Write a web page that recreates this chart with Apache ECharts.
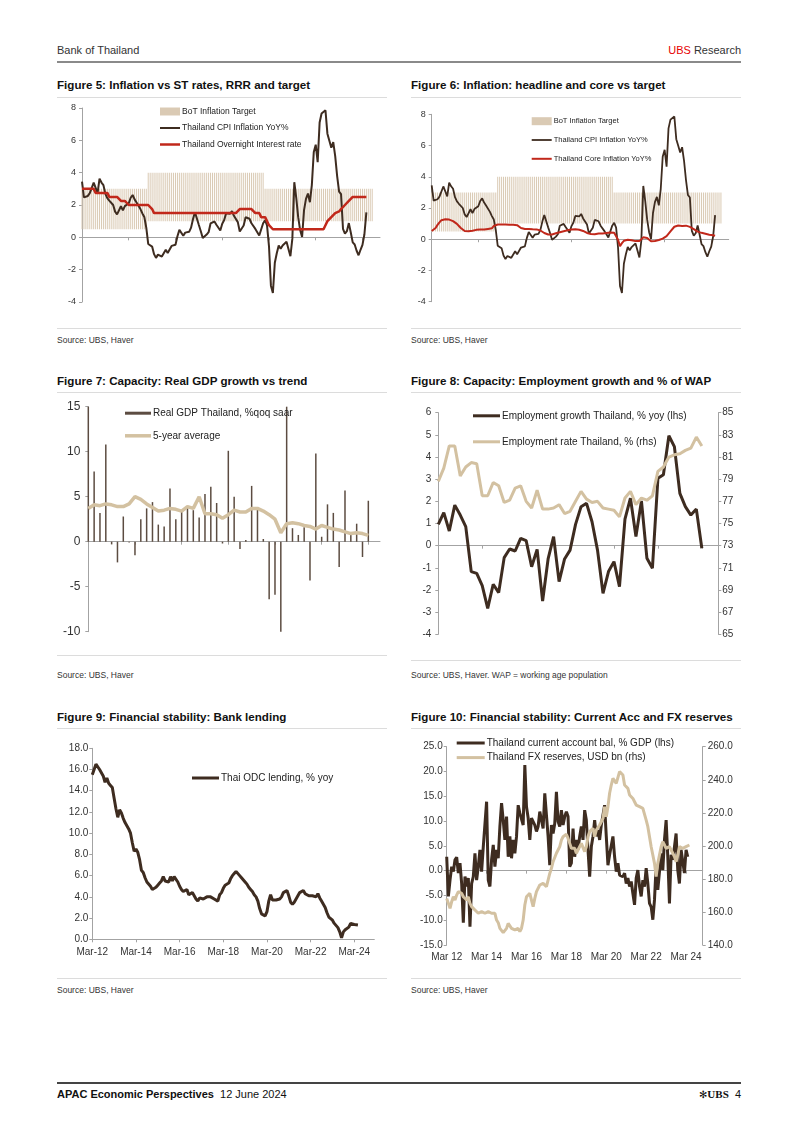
<!DOCTYPE html>
<html><head><meta charset="utf-8">
<script src="https://cdn.jsdelivr.net/npm/echarts@6/dist/echarts.min.js"></script>
<style>
body{margin:0;background:#fff;}
#page{position:relative;width:802px;height:1134px;background:#fff;font-family:"Liberation Sans",Arial,sans-serif;color:#222;overflow:hidden}
.t{position:absolute;white-space:nowrap}
.title{font-weight:bold;font-size:11.6px;line-height:14px;color:#111}
.src{font-size:8.5px;line-height:10px;color:#333}
.hr{position:absolute;height:1px;background:#dcdcdc}
.chart{position:absolute}
</style></head><body><div id="page">
<div class="t" style="left:57px;top:43.5px;font-size:11px;line-height:13px;color:#333">Bank of Thailand</div>
<div class="t" style="right:61px;top:43.5px;font-size:11px;line-height:13px;color:#333"><span style="color:#e60000">UBS</span> Research</div>
<div class="hr" style="left:57px;top:61px;width:684px;height:1.5px;background:#8a8a8a"></div>

<div class="t title" style="left:57px;top:78px">Figure 5: Inflation vs ST rates, RRR and target</div>
<div class="t title" style="left:411px;top:78px">Figure 6: Inflation: headline and core vs target</div>
<div class="hr" style="left:57px;top:96.5px;width:330px"></div>
<div class="hr" style="left:411px;top:96.5px;width:330px"></div>
<div class="hr" style="left:57px;top:328px;width:330px"></div>
<div class="hr" style="left:411px;top:328px;width:330px"></div>
<div class="t src" style="left:57px;top:335px">Source: UBS, Haver</div>
<div class="t src" style="left:411px;top:335px">Source: UBS, Haver</div>

<div class="t title" style="left:57px;top:374px">Figure 7: Capacity: Real GDP growth vs trend</div>
<div class="t title" style="left:411px;top:374px">Figure 8: Capacity: Employment growth and % of WAP</div>
<div class="hr" style="left:57px;top:391.5px;width:330px"></div>
<div class="hr" style="left:411px;top:391.5px;width:330px"></div>
<div class="hr" style="left:57px;top:655px;width:330px"></div>
<div class="hr" style="left:411px;top:660px;width:330px"></div>
<div class="t src" style="left:57px;top:670px">Source: UBS, Haver</div>
<div class="t src" style="left:411px;top:670px">Source: UBS, Haver. WAP = working age population</div>

<div class="t title" style="left:57px;top:710px">Figure 9: Financial stability: Bank lending</div>
<div class="t title" style="left:411px;top:710px">Figure 10: Financial stability: Current Acc and FX reserves</div>
<div class="hr" style="left:57px;top:728px;width:330px"></div>
<div class="hr" style="left:411px;top:728px;width:330px"></div>
<div class="hr" style="left:57px;top:978px;width:330px"></div>
<div class="hr" style="left:411px;top:978px;width:330px"></div>
<div class="t src" style="left:57px;top:984.5px">Source: UBS, Haver</div>
<div class="t src" style="left:411px;top:984.5px">Source: UBS, Haver</div>

<div class="hr" style="left:57px;top:1082px;width:684px;height:1.5px;background:#444"></div>
<div class="t" style="left:57px;top:1087.5px;font-size:11px;line-height:13px;color:#111"><b>APAC Economic Perspectives</b>&nbsp; 12 June 2024</div>
<div class="t" style="right:61px;top:1087.5px;font-size:11px;line-height:13px;color:#111"><span style="font-size:10px">✻</span><span style="font-family:'Liberation Serif',serif;font-weight:bold">UBS</span>&nbsp; 4</div>

<div id="c5" class="chart"></div>
<div id="c6" class="chart"></div>
<div id="c7" class="chart"></div>
<div id="c8" class="chart"></div>
<div id="c9" class="chart"></div>
<div id="c10" class="chart"></div>
</div>
<script>
// ---------------- DATA ----------------
const monthNames = ['Jan','Feb','Mar','Apr','May','Jun','Jul','Aug','Sep','Oct','Nov','Dec'];

// Thailand CPI inflation YoY%, monthly Mar-12 .. May-24
const cpi = [
 3.45,2.47,2.53,2.56,2.73,2.69,3.38,3.32,2.74,3.63,
 3.39,3.23,2.69,2.42,2.27,2.25,2.00,1.59,1.42,1.46,1.92,1.67,
 1.93,1.96,2.11,2.45,2.62,2.35,2.16,2.09,1.75,1.48,1.26,0.60,
 -0.41,-0.52,-0.57,-1.04,-1.27,-1.07,-1.05,-1.19,-1.07,-0.77,-0.97,-0.85,
 -0.53,-0.50,-0.46,0.07,0.46,0.38,0.10,0.29,0.38,0.34,0.60,1.13,
 1.55,1.44,0.76,0.38,-0.04,-0.05,0.17,0.32,0.86,0.86,0.98,0.78,
 0.68,0.42,0.84,1.07,1.49,1.38,1.46,1.62,1.33,1.23,0.94,0.36,
 0.27,0.73,1.24,1.23,1.15,0.87,0.98,0.52,0.32,0.11,0.21,0.87,
 1.05,0.74,-0.54,-2.99,-3.44,-1.57,-0.98,-0.50,-0.70,-0.50,-0.41,-0.27,
 -0.34,-1.17,-0.08,3.41,2.44,1.25,0.45,0.02,1.68,2.38,2.71,2.17,
 3.23,5.28,5.73,4.65,7.10,7.66,7.61,7.86,6.41,5.98,5.55,5.89,
 5.02,3.79,2.83,2.67,0.53,0.23,0.38,0.88,0.30,-0.31,-0.44,-0.83,
 -1.11,-0.77,-0.47,0.19,1.54];

// Thailand overnight interest rate, monthly Mar-12 .. May-24
const policyRate = [
 3,3,3,3,3,3,3,2.75,2.75,2.75,
 2.75,2.75,2.75,2.75,2.5,2.5,2.5,2.5,2.5,2.5,2.25,2.25,
 2.25,2.25,2,2,2,2,2,2,2,2,2,2,
 2,2,1.75,1.5,1.5,1.5,1.5,1.5,1.5,1.5,1.5,1.5,
 1.5,1.5,1.5,1.5,1.5,1.5,1.5,1.5,1.5,1.5,1.5,1.5,
 1.5,1.5,1.5,1.5,1.5,1.5,1.5,1.5,1.5,1.5,1.5,1.5,
 1.5,1.5,1.5,1.5,1.5,1.5,1.5,1.5,1.5,1.5,1.5,1.75,
 1.75,1.75,1.75,1.75,1.75,1.75,1.75,1.5,1.5,1.5,1.25,1.25,
 1.25,1.0,0.75,0.75,0.5,0.5,0.5,0.5,0.5,0.5,0.5,0.5,
 0.5,0.5,0.5,0.5,0.5,0.5,0.5,0.5,0.5,0.5,0.5,0.5,
 0.5,0.5,0.5,0.5,0.5,0.5,0.5,0.75,1.0,1.0,1.25,1.25,
 1.5,1.5,1.6,1.75,1.75,2.0,2.0,2.25,2.25,2.5,2.5,2.5,
 2.5,2.5,2.5,2.5,2.5];

// Thailand core inflation YoY% (as drawn), monthly Mar-12 .. May-24
const coreCpi = [
 0.53,0.62,0.72,0.92,1.08,1.22,1.26,1.28,1.28,1.26,
 1.22,1.16,1.10,0.98,0.85,0.72,0.62,0.53,0.52,0.51,
 0.52,0.54,0.57,0.60,0.62,0.63,0.64,0.62,0.64,0.66,
 0.67,0.70,0.85,0.92,0.94,0.94,0.94,0.94,0.94,0.92,
 0.92,0.92,0.92,0.92,0.90,0.85,0.72,0.67,0.66,0.66,
 0.66,0.65,0.64,0.64,0.63,0.62,0.56,0.47,0.40,0.34,
 0.30,0.30,0.30,0.34,0.38,0.42,0.45,0.47,0.51,0.54,
 0.57,0.60,0.62,0.63,0.64,0.63,0.61,0.58,0.53,0.46,
 0.40,0.35,0.33,0.32,0.32,0.34,0.36,0.36,0.37,0.38,
 0.40,0.41,0.43,0.44,0.41,0.38,-0.03,-0.45,-0.25,-0.10,
 -0.05,-0.03,-0.04,-0.06,-0.09,-0.12,-0.16,-0.12,-0.07,0.12,
 0.18,0.08,-0.02,-0.13,-0.14,-0.11,-0.08,-0.05,-0.02,0.04,
 0.10,0.20,0.32,0.50,0.62,0.80,0.86,0.88,0.86,0.85,
 0.87,0.87,0.84,0.79,0.74,0.65,0.56,0.49,0.45,0.41,
 0.38,0.35,0.31,0.29,0.26,0.25,0.23];

// BoT inflation target regimes (months covered from Mar-12, low, high)
const targetMonths = [34, 60, 56];
const targetLow = [0.5, 1.0, 1.0];
const targetHigh = [3.0, 4.0, 3.0];

// Real GDP %qoq saar, quarterly Q1-12 .. Q1-24 (clipped at axis limits as drawn)
const gdp = [15,7.8,3.2,10.8,-0.3,-2.3,2.8,-0.1,-1.5,2.5,
 3.7,4.4,1.9,1.7,5.9,2.5,3.4,3.8,3.5,2.7,
 5.3,6.1,4.3,-0.2,10.1,5.0,-0.8,0.2,6.2,3.7,
 0.3,-6.4,-5.9,-10,15,1.5,0.75,1.6,-4.3,9.8,
 0.55,4.15,3.2,-2.8,5.7,1.0,2.0,-1.7,4.55];
const gdpTrend = [3.7,4.1,4.0,4.2,4.1,3.9,3.9,4.2,5.0,4.7,
 4.2,3.8,3.4,3.5,3.7,3.6,3.4,3.9,3.7,5.0,
 3.1,3.1,3.0,2.6,3.0,3.5,3.3,3.3,3.7,3.7,
 3.4,3.0,2.5,1.0,2.0,2.1,2.0,1.8,1.7,1.4,
 1.8,1.6,1.4,1.3,1.1,0.9,1.0,0.9,0.7];

// Employment, quarterly Q1-12 .. Q1-24
const empGrowth = [0.96,1.49,0.66,1.83,1.38,0.86,-1.17,-1.25,-1.8,-2.83,
 -1.74,-2.12,-0.54,-0.15,-0.24,0.33,0.23,-0.95,-0.17,-2.5,
 -0.6,0.41,-1.62,-0.6,-0.2,0.96,1.76,1.91,1.08,-0.2,
 -2.15,-1.17,-0.72,-1.85,1.2,2.14,0.41,2.02,-0.57,-1.02,
 3.04,3.2,4.96,4.47,2.36,1.76,1.38,1.65,-0.12];
const empRate = [78.8,80.0,82.0,82.0,79.3,80.1,80.5,80.4,77.5,77.5,
 78.7,78.4,76.9,77.1,78.2,78.4,77.0,76.4,78.0,76.3,
 76.3,76.4,76.7,75.9,76.1,77.0,77.9,77.2,76.9,77.0,
 76.4,76.3,76.2,75.6,77.3,77.9,76.7,77.3,77.1,77.5,
 79.7,80.1,81.0,81.2,81.3,81.6,81.8,82.8,82.0];

// Thai ODC lending % yoy, monthly Mar-12 .. May-24
const lending = [15.5,16.0,16.5,16.6,16.0,15.9,15.4,14.8,15.2,14.7,
 14.5,14.3,13.3,12.3,11.5,12.2,11.9,11.4,11.0,10.7,
 10.4,10.0,9.1,8.3,8.5,8.2,7.5,6.5,6.3,5.8,
 5.4,5.3,5.0,4.7,4.6,4.9,5.1,5.3,5.5,5.9,
 5.5,5.6,5.4,5.9,5.5,5.9,5.8,5.4,5.0,4.7,
 4.5,4.4,4.7,4.2,4.2,4.4,4.1,3.8,3.6,3.9,
 3.9,3.8,3.9,4.0,4.1,4.0,3.9,3.8,3.7,3.6,
 4.2,4.4,4.8,5.1,5.0,5.3,5.7,6.0,6.2,6.4,
 6.4,6.0,5.8,5.7,5.4,5.2,4.9,4.7,4.5,4.2,
 4.0,3.6,2.9,2.4,2.3,2.2,2.6,3.6,4.2,3.7,
 3.8,3.7,3.6,3.8,4.0,4.4,4.5,4.6,4.1,3.5,
 3.3,3.5,3.8,4.1,4.4,4.5,4.6,4.3,4.2,4.1,
 4.2,4.1,4.1,4.0,4.3,3.9,3.6,3.3,3.0,2.5,
 2.1,2.0,1.8,1.5,1.35,1.1,0.7,0.15,0.7,0.9,
 1.0,1.15,1.5,1.5,1.4,1.4,1.35];

// Current account % GDP, monthly Mar-12 .. Apr-24
const caBalance = [2.8,-5.2,-1.9,0.8,-0.2,2.2,2.7,-0.5,1.5,-2.6,
 -10.5,-1.2,-3.2,-1.5,-11.3,-2.6,-1.2,3.5,-1.9,0.8,
 4.2,-0.2,4.8,4.5,13.9,-1.9,-3.2,2.2,5.2,0.8,
 4.2,2.5,8.9,13.6,10.2,6.2,10.9,2.8,6.9,2.5,
 6.2,3.5,6.9,13.2,11.6,11.9,9.2,21.3,12.9,10.6,
 6.2,10.6,10.9,9.2,7.9,8.9,11.9,10.2,8.5,15.6,
 11.2,6.9,1.1,9.2,7.5,9.5,15.9,9.9,8.9,12.2,
 9.2,10.9,11.9,10.9,0.8,
 1.5,8.5,2.8,6.2,4.2,6.9,8.9,6.2,12.2,10.2,
 4.2,-1.2,4.8,6.9,10.2,6.9,8.2,6.2,9.2,9.5,
 13.2,6.9,1.1,3.2,2.8,6.9,2.8,-0.2,1.5,-0.9,
 -0.5,-1.2,-0.5,-2.6,-1.5,-3.2,-2.2,-4.6,-6.9,-1.5,
 0.1,-3.2,-5.2,-1.9,-3.2,0.5,-2.6,-6.6,-7.3,-9.9,
 -5.9,1.1,-3.9,-0.2,3.5,0.1,6.2,10.2,2.8,-6.6,
 3.2,2.2,4.8,7.5,0.1,-2.6,4.2,4.2,-0.5,4.2,2.8];

// FX reserves USD bn, monthly Mar-12 .. May-24
const fxReserves = [168.2,165.2,162.2,166.2,169.2,167.2,170.2,172.3,171.3,171.3,
 169.2,169.2,167.2,169.2,165.2,163.2,162.2,161.2,161.2,159.2,
 159.2,160.2,159.2,159.2,159.2,160.2,159.2,159.2,159.8,159.2,
 155.1,153.5,150.1,149.1,147.5,148.1,150.1,153.1,152.1,150.1,
 150.1,149.1,148.1,150.1,148.1,150.1,155.1,164.2,169.2,169.2,
 171.3,167.2,163.2,168.2,172.3,172.3,176.3,175.3,177.3,178.3,
 175.3,179.3,183.3,186.4,190.4,191.4,195.5,196.5,199.5,203.5,
 205.5,206.6,207.0,204.5,201.5,
 198.5,197.5,198.5,195.5,194.5,199.5,201.5,200.5,196.5,199.5,
 205.5,208.6,207.6,210.6,205.5,209.6,210.6,212.6,214.6,216.6,
 223.7,217.6,223.7,231.8,236.8,240.8,241.8,237.8,238.8,244.9,
 245.5,242.9,236.8,235.8,234.8,230.8,231.8,228.7,226.7,224.7,
 225.7,223.7,224.7,222.7,221.7,215.6,211.6,205.5,199.5,194.5,
 189.4,181.4,189.4,194.5,199.5,202.5,200.5,198.5,197.5,199.5,
 198.5,195.5,193.5,190.4,194.5,199.5,200.5,198.5,198.5,199.5,
 198.5,200.5];

// ---------------- helpers ----------------
function monthCats(n, sep){ const out=[]; for(let i=0;i<n;i++){ const k=2+i; out.push(monthNames[k%12]+sep+String(12+Math.floor(k/12)).padStart(2,'0')); } return out; }
function quarterCats(n){ const out=[]; for(let i=0;i<n;i++){ const k=2+3*i; out.push(monthNames[k%12]+'-'+String(12+Math.floor(k/12)).padStart(2,'0')); } return out; }
function expand(counts, vals){ const out=[]; counts.forEach((c,j)=>{ for(let i=0;i<c;i++) out.push(vals[j]); }); return out; }
const bandLow = expand(targetMonths, targetLow);
const bandSpan = expand(targetMonths, targetHigh.map((h,j)=>+(h-targetLow[j]).toFixed(2)));

const FONT = '"Liberation Sans", Arial, sans-serif';
const AX = '#a3a3a3', LBL = '#333';
const DARK = '#3e2c20', BEIGE = '#d3c1a1', RED = '#c1281b', BAND = '#dacab4';

function mk(id, box){ const el=document.getElementById(id); el.style.left=box[0]+'px'; el.style.top=box[1]+'px'; el.style.width=box[2]+'px'; el.style.height=box[3]+'px'; return echarts.init(el,null,{renderer:'canvas'}); }
function grid(box,l,t,r,b){ return {left:l-box[0], top:t-box[1], width:r-l, height:b-t, containLabel:false, outerBoundsMode:'none'}; }
function xCat(data, interval, margin, fs){ return {type:'category', data, boundaryGap:false,
  axisLine:{show:true,onZero:true,lineStyle:{color:AX,width:1}},
  axisTick:{show:true,interval,length:3,lineStyle:{color:AX}},
  axisLabel:{show:true,interval,margin,fontSize:fs,color:LBL,fontFamily:FONT},
  splitLine:{show:false}}; }
function yVal(min,max,interval,fs,margin,pos,dec){ return {type:'value',min,max,interval,position:pos||'left',
  axisLine:{show:true,onZero:false,lineStyle:{color:AX,width:1}},
  axisTick:{show:true,length:3,lineStyle:{color:AX}},
  axisLabel:{fontSize:fs,color:LBL,margin,fontFamily:FONT,formatter:v=>dec?v.toFixed(dec):String(v)},
  splitLine:{show:false}}; }
function line(name,data,color,width,extra){ return Object.assign({type:'line',name,data,symbol:'none',showSymbol:false,
  lineStyle:{color,width},itemStyle:{color},emphasis:{disabled:true},animation:false},extra||{}); }
// legend icon: horizontal band of thickness t inside a W x H box
function bandIcon(W,H,t){ const a=(H-t)/2, b=(H+t)/2; return `path://M0,0L0,0M0,${a}L${W},${a}L${W},${b}L0,${b}ZM${W},${H}L${W},${H}`; }
function legend(left,top,gap,w,h,fs,data){ return {orient:'vertical',left,top,padding:0,itemGap:gap,itemWidth:w,itemHeight:h,
  itemStyle:{borderWidth:0},
  textStyle:{fontSize:fs,color:'#222',fontFamily:FONT,padding:[0,0,0,-3]},data,selectedMode:false}; }

// ---------------- Figure 5 ----------------
(function(){
 const box=[50,98,345,228];
 const ch=mk('c5',box);
 ch.setOption({animation:false,textStyle:{fontFamily:FONT},
  grid:grid(box,82,108,380,302),
  legend:legend(110,9,7.5,20,8,8.5,[
    {name:'BoT Inflation Target',icon:'rect'},
    {name:'Thailand CPI Inflation YoY%',icon:bandIcon(20,8,2)},
    {name:'Thailand Overnight Interest rate',icon:bandIcon(20,8,2.5)}]),
  xAxis:xCat(monthCats(154,'-'),23,70,9),
  yAxis:yVal(-4,8,2,9,6),
  series:[
   {type:'bar',stack:'band',data:bandLow,barWidth:1,itemStyle:{color:'rgba(0,0,0,0)'},silent:true},
   {type:'bar',name:'BoT Inflation Target',stack:'band',data:bandSpan,barWidth:1,itemStyle:{color:BAND},silent:true},
   line('Thailand CPI Inflation YoY%',cpi,DARK,2),
   line('Thailand Overnight Interest rate',policyRate,RED,2.5)
  ]});
})();

// ---------------- Figure 6 ----------------
(function(){
 const box=[400,98,345,228];
 const ch=mk('c6',box);
 ch.setOption({animation:false,textStyle:{fontFamily:FONT},
  grid:grid(box,431.7,114.3,728.7,301.7),
  legend:legend(131.7,19.2,10.8,20,8,7.5,[
    {name:'BoT Inflation Target',icon:'rect'},
    {name:'Thailand CPI Inflation YoY%',icon:bandIcon(20,8,1.8)},
    {name:'Thailand Core Inflation YoY%',icon:bandIcon(20,8,2)}]),
  xAxis:xCat(monthCats(154,'-'),23,66,9),
  yAxis:yVal(-4,8,2,9,6),
  series:[
   {type:'bar',stack:'band',data:bandLow,barWidth:1,itemStyle:{color:'rgba(0,0,0,0)'},silent:true},
   {type:'bar',name:'BoT Inflation Target',stack:'band',data:bandSpan,barWidth:1,itemStyle:{color:BAND},silent:true},
   line('Thailand CPI Inflation YoY%',cpi,DARK,1.8),
   line('Thailand Core Inflation YoY%',coreCpi,RED,2)
  ]});
})();

// ---------------- Figure 7 ----------------
(function(){
 const box=[50,393,345,260];
 const ch=mk('c7',box);
 ch.setOption({animation:false,textStyle:{fontFamily:FONT},
  grid:grid(box,88.3,406.7,380,631.7),
  legend:legend(75,15.2,12.6,26,4,10,[
    {name:'Real GDP Thailand, %qoq saar',icon:bandIcon(26,4,3)},
    {name:'5-year average',icon:bandIcon(26,4,3.5)}]),
  xAxis:xCat(quarterCats(51),7,97,12),
  yAxis:yVal(-10,15,5,12,8),
  series:[
   {type:'bar',name:'Real GDP Thailand, %qoq saar',data:gdp,barWidth:1.5,itemStyle:{color:'#5c4c41'},silent:true},
   line('5-year average',gdpTrend,BEIGE,3.5)
  ]});
})();

// ---------------- Figure 8 ----------------
(function(){
 const box=[400,393,345,265];
 const ch=mk('c8',box);
 ch.setOption({animation:false,textStyle:{fontFamily:FONT},
  grid:grid(box,438.3,412.7,718.3,634.3),
  legend:legend(73,17.8,16,27,8,10,[
    {name:'Employment growth Thailand, % yoy (lhs)',icon:bandIcon(27,8,3)},
    {name:'Employment rate Thailand, % (rhs)',icon:bandIcon(27,8,3)}]),
  xAxis:xCat(quarterCats(52),7,95,10),
  yAxis:[yVal(-4,6,1,10,7,'left'), yVal(65,85,2,10,4,'right')],
  series:[
   line('Employment growth Thailand, % yoy (lhs)',empGrowth,DARK,3),
   line('Employment rate Thailand, % (rhs)',empRate,BEIGE,3,{yAxisIndex:1})
  ]});
})();

// ---------------- Figure 9 ----------------
(function(){
 const box=[50,730,345,245];
 const ch=mk('c9',box);
 ch.setOption({animation:false,textStyle:{fontFamily:FONT},
  grid:grid(box,92.3,748.3,374.3,939.3),
  legend:legend(142,43,10,27,8,10,[{name:'Thai ODC lending, % yoy',icon:bandIcon(27,8,3)}]),
  xAxis:xCat(monthCats(156,'-'),23,8,10),
  yAxis:yVal(0,18,2,10,4,'left',1),
  series:[ line('Thai ODC lending, % yoy',lending,DARK,3) ]});
})();

// ---------------- Figure 10 ----------------
(function(){
 const box=[400,730,345,245];
 const ch=mk('c10',box);
 const cats = monthCats(155,' ');
 ch.setOption({animation:false,textStyle:{fontFamily:FONT},
  grid:grid(box,446.7,746.7,702.7,945),
  legend:legend(56.7,8,4.6,28,8,10,[
    {name:'Thailand current account bal, % GDP (lhs)',icon:bandIcon(28,8,3)},
    {name:'Thailand FX reserves, USD bn (rhs)',icon:bandIcon(28,8,3)}]),
  xAxis:[
   {type:'category',data:cats,boundaryGap:false,position:'bottom',
    axisLine:{show:false,onZero:false},axisTick:{show:false},
    axisLabel:{show:true,interval:23,margin:7,fontSize:10,color:LBL,fontFamily:FONT},splitLine:{show:false}},
   {type:'category',data:cats,boundaryGap:false,position:'top',
    axisLine:{show:true,onZero:true,onZeroAxisIndex:0,lineStyle:{color:AX,width:1}},
    axisTick:{show:true,interval:23,length:3,inside:true,lineStyle:{color:AX}},
    axisLabel:{show:false},splitLine:{show:false}}
  ],
  yAxis:[yVal(-15,25,5,10,4,'left',1), yVal(140,260,20,10,5,'right',1)],
  series:[
   line('Thailand current account bal, % GDP (lhs)',caBalance,DARK,3),
   line('Thailand FX reserves, USD bn (rhs)',fxReserves,BEIGE,3,{yAxisIndex:1})
  ]});
})();
</script>
</body></html>
